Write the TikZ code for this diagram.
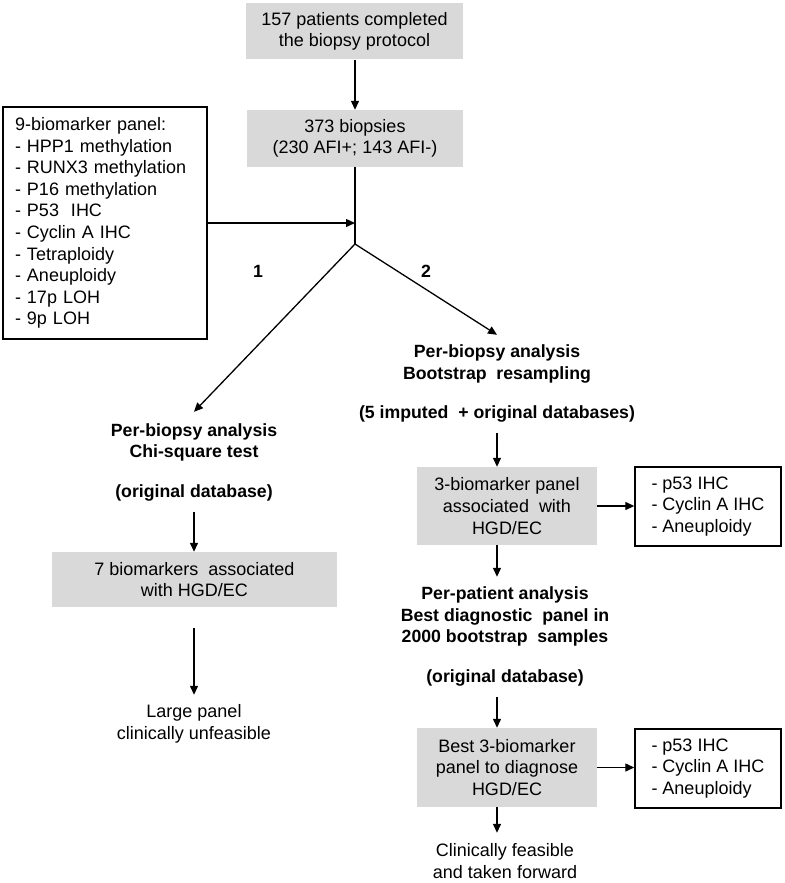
\documentclass[tikz,border=0pt]{standalone}
\usepackage{fontspec}
\setmainfont{Liberation Sans}
\usetikzlibrary{arrows.meta,calc}
\definecolor{boxgray}{HTML}{D9D9D9}
\begin{document}
\begin{tikzpicture}[x=1pt,y=-1pt,
  every node/.style={font=\fontsize{18}{21.6}\selectfont, inner sep=0pt, align=center},
  bold/.style={font=\fontsize{17.7}{21.6}\selectfont\bfseries},
  gbox/.style={fill=boxgray, draw=none},
  wbox/.style={draw=black, line width=1.4pt, fill=white},
  ln/.style={line width=1.3pt},
  arr/.style={line width=1.3pt, -{Triangle[length=9pt,width=8pt]}}]
\useasboundingbox (0,0) rectangle (784,883);

% top part
\node[gbox, minimum width=217pt, minimum height=56pt] (top) at (354.5,31.5) {157 patients completed\\the biopsy protocol};
\node[gbox, minimum width=216pt, minimum height=57pt] (bio) at (355,138.5) {373 biopsies\\(230 AFI+; 143 AFI-)};
\draw[arr] (top.south -| bio.north) -- (bio.north);

\node[wbox, minimum width=204pt, minimum height=232pt, text width=180pt, align=left] (panel) at (105,223)
  {9-biomarker panel:\\- HPP1 methylation\\- RUNX3 methylation\\- P16 methylation\\- P53\ \ IHC\\- Cyclin A IHC\\- Tetraploidy\\- Aneuploidy\\- 17p LOH\\- 9p LOH};

\coordinate (J) at (355,244);
\draw[ln] (bio.south) -- (J);
\draw[arr] (panel.east) -- (panel.east -| J);

\node[bold] (n1) at (258,271) {1};
\node[bold] (n2) at (426,271) {2};

% right branch
\node[bold, minimum height=58pt] (rpa) at (497,364) {Per-biopsy analysis\\Bootstrap\ \ resampling};
\draw[arr] (J) -- (rpa.north);
\node[bold, minimum height=38pt] (rimp) at (497,414) {(5 imputed\ \ + original databases)};
\node[gbox, minimum width=180pt, minimum height=78pt] (b3) at (507,506) {3-biomarker panel\\associated\ \ with\\HGD/EC};
\draw[arr] (rimp.south) -- (rimp.south |- b3.north);
\node[wbox, minimum width=146pt, minimum height=79pt, align=left] (r3) at (708,506.5) {- p53 IHC\\- Cyclin A IHC\\- Aneuploidy};
\draw[arr] (b3.east) -- (b3.east -| r3.west);

\node[bold, minimum height=79pt] (ppa) at (505,616.5) {Per-patient analysis\\Best diagnostic\ \ panel in\\2000 bootstrap\ \ samples};
\draw[arr] ([xshift=-10pt]b3.south) -- ([xshift=-10pt]b3.south |- ppa.north);
\node[bold, minimum height=38pt] (rorig) at (505,678) {(original database)};
\node[gbox, minimum width=180pt, minimum height=79pt] (b4) at (507,767.5) {Best 3-biomarker\\panel to diagnose\\HGD/EC};
\draw[arr] ([xshift=-8pt]rorig.south) -- ([xshift=-8pt]rorig.south |- b4.north);
\node[wbox, minimum width=146pt, minimum height=79pt, align=left] (r4) at (708,768.5) {- p53 IHC\\- Cyclin A IHC\\- Aneuploidy};
\draw[arr] (b4.east) -- (b4.east -| r4.west);
\node[minimum height=56pt] (clin) at (505,861) {Clinically feasible\\and taken forward};
\draw[arr] ([xshift=-10pt]b4.south) -- ([xshift=-10pt]b4.south |- clin.north);

% left branch
\node[bold, minimum height=61pt] (lpa) at (194,442.5) {Per-biopsy analysis\\Chi-square test};
\draw[arr] (J) -- (lpa.north);
\node[bold, minimum height=38pt] (lorig) at (194,493) {(original database)};
\node[gbox, minimum width=285pt, minimum height=55pt] (b7) at (194.5,579.5) {7 biomarkers\ \ associated\\with HGD/EC};
\draw[arr] (lorig.south) -- (lorig.south |- b7.north);
\node[minimum height=58pt] (large) at (194,724) {Large panel\\clinically unfeasible};
\draw[arr, shorten <=21pt] (large.north |- b7.south) -- (large.north);
\end{tikzpicture}
\end{document}
